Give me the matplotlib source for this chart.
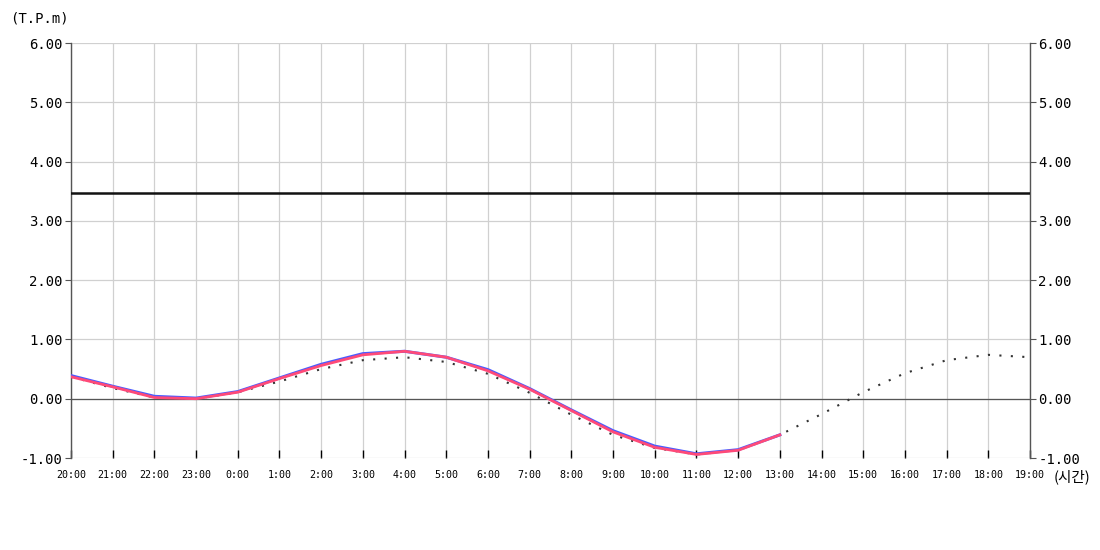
import matplotlib
matplotlib.use("Agg")
import matplotlib.pyplot as plt
import numpy as np

hours = ["20:00", "21:00", "22:00", "23:00", "0:00", "1:00", "2:00", "3:00", "4:00",
         "5:00", "6:00", "7:00", "8:00", "9:00", "10:00", "11:00", "12:00", "13:00",
         "14:00", "15:00", "16:00", "17:00", "18:00", "19:00"]
blue_obs = [0.39, 0.21, 0.04, 0.01, 0.12, 0.35, 0.58, 0.76, 0.80, 0.70, 0.49, 0.17,
            -0.19, -0.54, -0.80, -0.93, -0.86, -0.61]
red_obs = [0.37, 0.20, 0.02, 0.00, 0.11, 0.34, 0.56, 0.74, 0.80, 0.70, 0.47, 0.16,
           -0.20, -0.56, -0.82, -0.94, -0.87, -0.61]
predicted = [0.37, 0.18, 0.02, 0.00, 0.11, 0.29, 0.50, 0.65, 0.70, 0.62, 0.42, 0.10,
             -0.27, -0.61, -0.83, -0.94, -0.87, -0.61, -0.26, 0.11, 0.43, 0.65, 0.74, 0.70]
threshold = 3.47
y_ticks = [-1.0, 0.0, 1.0, 2.0, 3.0, 4.0, 5.0, 6.0]

mono = ["DejaVu Sans Mono", "Noto Sans CJK KR"]
plt.rcParams['font.family'] = mono

fig = plt.figure(figsize=(11, 5.5), dpi=100)
ax = fig.add_axes([71/1100, 92/550, (1030-71)/1100, (458-43)/550])

x_all = np.arange(len(hours))
ax.set_xlim(0, len(hours) - 1)
ax.set_ylim(-1, 6)

ax.grid(True, color="#d0d0d0", linewidth=0.9)
ax.set_axisbelow(True)

ax.axhline(0, color="#555555", linewidth=0.9, zorder=2)
ax.axhline(threshold, color="#111111", linewidth=1.8, zorder=3)

ax.plot(x_all, predicted, color="#333333", linewidth=1.5, linestyle=(0, (1, 4.5)), zorder=3)
ax.plot(x_all[:len(blue_obs)], blue_obs, color="#4a5cff", linewidth=2.2, zorder=4)
ax.plot(x_all[:len(red_obs)], red_obs, color="#ff4a78", linewidth=2.0, zorder=5)

ax.set_xticks(x_all)
ax.set_xticklabels(hours, fontsize=7.2)
ax.set_yticks(y_ticks)
ax.set_yticklabels([f"{v:.2f}" for v in y_ticks], fontsize=10)

ax.tick_params(axis="x", direction="in", length=6, width=1, color="black", pad=9)
ax.tick_params(axis="y", direction="out", length=4, width=0.8, color="#555555", pad=2,
               labelright=True, right=True)

for s in ["top", "bottom"]:
    ax.spines[s].set_visible(False)
for s in ["left", "right"]:
    ax.spines[s].set_color("#555555")
    ax.spines[s].set_linewidth(1.0)

fig.text(10/1100, 1 - 19/550, "(T.P.m)", fontsize=10, va="center", ha="left")
fig.text(1054/1100, 1 - 477/550, "(시간)", fontsize=10.5, va="center", ha="left",
         family=["Noto Sans CJK KR", "DejaVu Sans Mono"])

fig.savefig("out.png", dpi=100)
